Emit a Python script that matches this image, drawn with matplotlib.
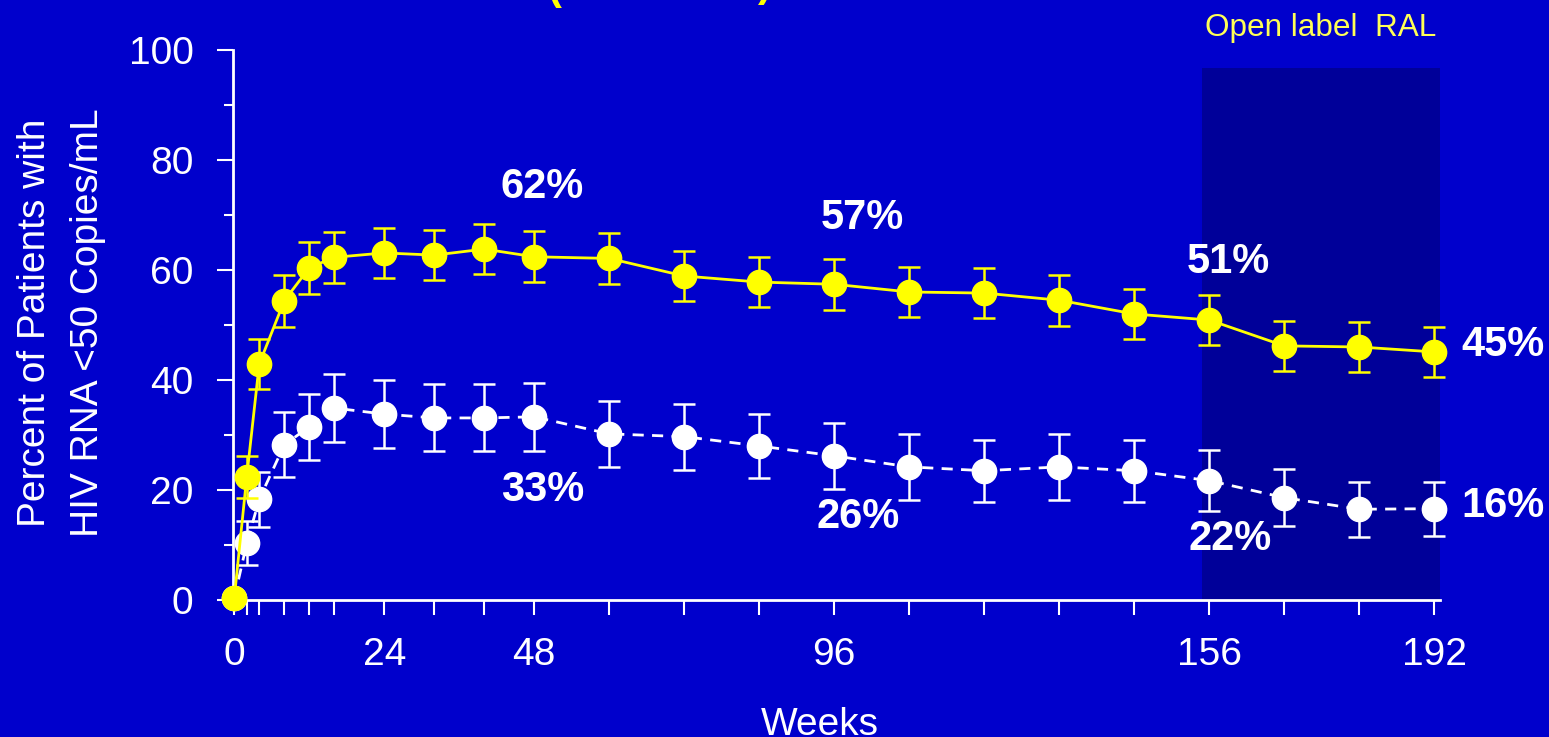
import matplotlib
matplotlib.use("Agg")
import matplotlib.pyplot as plt
from matplotlib.patches import Rectangle

plt.rcParams['font.family'] = ['Liberation Sans', 'DejaVu Sans']

# weeks on study and percent of patients with HIV RNA <50 copies/mL
weeks = [0, 2, 4, 8, 12, 16, 24, 32, 40, 48, 60, 72, 84, 96, 108, 120, 132, 144, 156, 168, 180, 192]
ral = [0.3, 22.4, 42.9, 54.4, 60.4, 62.3, 63.1, 62.7, 63.8, 62.4, 62.1, 58.9, 57.8, 57.4,
       56.0, 55.8, 54.5, 52.0, 50.9, 46.2, 46.0, 45.1]
ral_err = [0, 3.8, 4.6, 4.7, 4.7, 4.6, 4.6, 4.6, 4.6, 4.6, 4.6, 4.6, 4.6, 4.6,
           4.6, 4.6, 4.6, 4.6, 4.6, 4.6, 4.6, 4.6]
pbo = [0.3, 10.3, 18.3, 28.2, 31.5, 34.9, 33.8, 33.1, 33.1, 33.3, 30.2, 29.7, 28.0, 26.2,
       24.2, 23.5, 24.2, 23.5, 21.7, 18.6, 16.5, 16.6]
pbo_err = [0, 4.0, 5.0, 5.9, 6.0, 6.2, 6.2, 6.1, 6.1, 6.2, 6.0, 6.0, 5.9, 6.0,
           6.0, 5.6, 6.0, 5.6, 5.6, 5.2, 5.0, 4.9]
labelled_weeks = [0, 24, 48, 96, 156, 192]

# callouts: (week, value, text)
ral_notes = [(49.3, 75, '62%'), (100.5, 69.5, '57%'), (159, 61.5, '51%'), (203, 46.4, '45%')]
pbo_notes = [(49.3, 20, '33%'), (99.8, 15, '26%'), (159.4, 11, '22%'), (203, 17, '16%')]

bg = '#0000CC'
yellow = '#FFFF00'

fig = plt.figure(figsize=(15.49, 7.37), dpi=100, facecolor=bg)
ax = fig.add_axes([233 / 1549, 0.1859, 1207 / 1549, 0.7463], facecolor=bg)

# open-label period
ax.add_patch(Rectangle((154.8, 0), 192.9 - 154.8, 96.7, facecolor='#000099',
                       edgecolor='none', zorder=0))
fig.text(1205 / 1549, 1 - 36 / 737, 'Open label  RAL', color='#FFFF55',
         fontsize=22.7, ha='left', va='baseline')

ax.errorbar(weeks, pbo, yerr=pbo_err, color='white', lw=2, ls=(0, (4, 3)),
            marker='o', ms=17.5, mfc='white', mec='white', ecolor='white',
            elinewidth=1.8, capsize=8, capthick=1.8, zorder=3, clip_on=False)
ax.errorbar(weeks, ral, yerr=ral_err, color=yellow, lw=2,
            marker='o', ms=17.5, mfc=yellow, mec=yellow, ecolor=yellow,
            elinewidth=1.8, capsize=7.6, capthick=1.8, zorder=4, clip_on=False)

for x, y, t in ral_notes + pbo_notes:
    ax.text(x, y, t, color='white', fontsize=30, fontweight='bold',
            ha='center', va='center', clip_on=False)

ax.set_xlim(-0.2, 192.9)
ax.set_ylim(0, 100)
ax.set_xticks(weeks)
ax.set_xticklabels([str(w) if w in labelled_weeks else '' for w in weeks])
ax.set_yticks(range(0, 101, 20))
ax.set_yticks(range(10, 100, 20), minor=True)

for side in ['top', 'right']:
    ax.spines[side].set_visible(False)
for side in ['left', 'bottom']:
    ax.spines[side].set_color('white')
    ax.spines[side].set_linewidth(2)

ax.tick_params(axis='x', which='major', direction='out', length=11, width=1.5,
               color='white', labelcolor='white', labelsize=28, pad=16)
ax.tick_params(axis='y', which='major', direction='out', length=11.5, width=1.5,
               color='white', labelcolor='white', labelsize=28, pad=17)
ax.tick_params(axis='y', which='minor', direction='out', length=6.5, width=1.5,
               color='white')

# axis titles
ymid = 1 - 323 / 737
fig.text(45 / 1549, ymid, 'Percent of Patients with', color='white', fontsize=28,
         rotation=90, rotation_mode='anchor', ha='center', va='baseline')
fig.text(98 / 1549, ymid, 'HIV RNA <50 Copies/mL', color='white', fontsize=28,
         rotation=90, rotation_mode='anchor', ha='center', va='baseline')
fig.text(820 / 1549, 2 / 737, 'Weeks', color='white', fontsize=28,
         ha='center', va='baseline')

# parentheses of the slide heading sitting just above the frame
fig.text(548 / 1549, 1 + 1 / 737, '(', color=yellow, fontsize=30, fontweight='bold',
         ha='left', va='baseline')
fig.text(772 / 1549, 1 + 4 / 737, ')', color=yellow, fontsize=30, fontweight='bold',
         ha='right', va='baseline')

fig.savefig('out.png', dpi=100, facecolor=bg)
